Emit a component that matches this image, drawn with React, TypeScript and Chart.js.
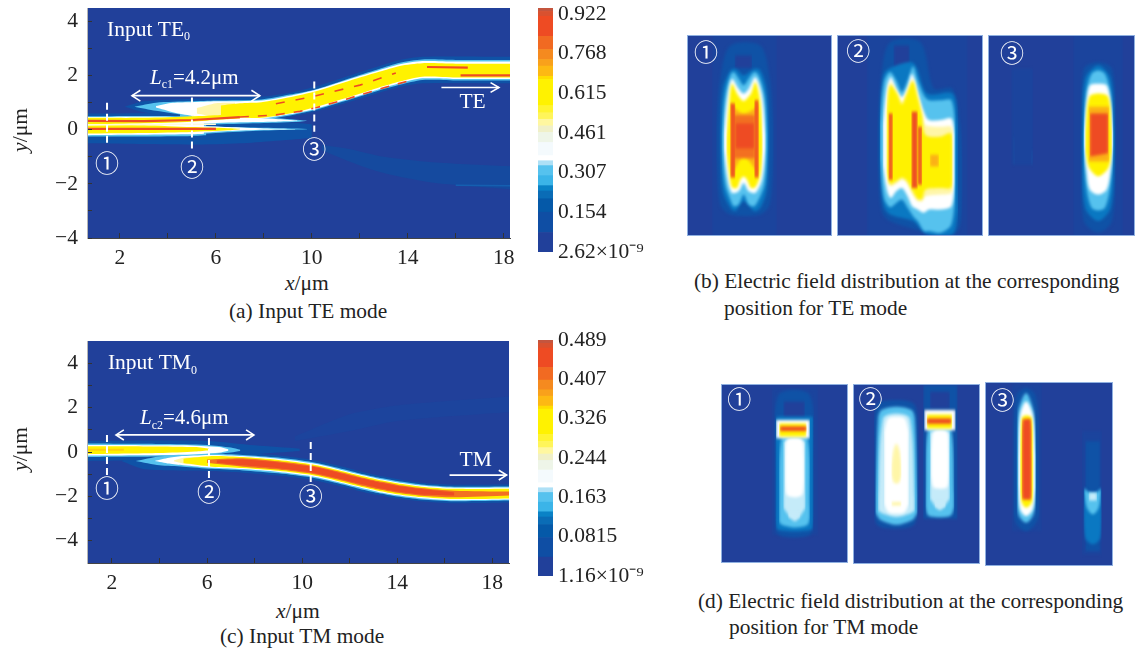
import React, { useEffect, useRef } from "react";
import { Chart, registerables } from "chart.js";
Chart.register(...registerables);

type Row = number[];

// ---------- axis ticks and labels ----------
const xTickValues = [2, 4, 6, 8, 10, 12, 14, 16, 18];
const xLabelled = [2, 6, 10, 14, 18];
const yTickValues = [-4, -3, -2, -1, 0, 1, 2, 3, 4];
const yLabelled = [-4, -2, 0, 2, 4];
const teBarValues = [0, 0.154, 0.307, 0.461, 0.615, 0.768, 0.922];
const teBarLabels = ["2.62×10⁻⁹", "0.154", "0.307", "0.461", "0.615", "0.768", "0.922"];
const tmBarValues = [0, 0.0815, 0.163, 0.244, 0.326, 0.407, 0.489];
const tmBarLabels = ["1.16×10⁻⁹", "0.0815", "0.163", "0.244", "0.326", "0.407", "0.489"];

// ---------- colour bar (fraction of full scale, bottom to top) ----------
const barEdges = [0, 0.08, 0.163, 0.218, 0.25, 0.272, 0.313, 0.354, 0.374, 0.395, 0.449, 0.49, 0.517, 0.544, 0.571, 0.6, 0.707, 0.72, 0.762, 0.789, 0.83, 0.884, 0.966, 0.986, 1];
const barColors = ["#21409a", "#0f4ea4", "#0559a8", "#0a6cb6", "#0a82c6", "#3bb4e8", "#56c2ee", "#aee0f6", "#ffffff", "#f4fafd", "#eef5e8", "#f0f0c8", "#fff7a0", "#fff55a", "#fff430", "#fff200", "#ffdd00", "#fdb913", "#f9a11b", "#f58a1f", "#f16a22", "#ee4b23", "#d9512f", "#c4553e"];

const BG = "#21409a", FAINT = "#1b449d", DEEP = "#0f52a6", MID = "#0a78c2", SKY = "#56c2ee", PALE = "#c5ebf9", WHITE = "#ffffff", CREAM = "#fff6a8", YELLOW = "#fff200", AMBER = "#fbb116", ORANGE = "#f37021", RED = "#ee4b23";

// ---------- panel (a): contours [x, upper y, lower y] in µm ----------
const aLowerFaint: Row[] = [[10.4, -0.55, -0.75], [11.5, -0.7, -1.15], [13, -1, -1.6], [15, -1.2, -1.95], [18.26, -1.35, -2.2]];
const aInputHalo: Row[] = [[0.625, 0.6, -0.5], [5, 0.6, -0.55], [7, 0.45, -0.5], [10, 0.2, -0.3]];
const aUpperHalo: Row[] = [[2.2, 0.85, 0.85], [3, 1.05, 0.65], [5, 1.15, 0.42], [7.9, 1.22, 0.3], [9.08, 1.37, 0.47], [10.17, 1.6, 0.68], [11.9, 2.1, 1.12], [12.8, 2.35, 1.37], [13.67, 2.58, 1.58], [14.6, 2.7, 1.72], [18.26, 2.7, 1.72]];
const aUpperSky: Row[] = [[2.6, 0.85, 0.85], [3.5, 1, 0.7], [5, 1.05, 0.5], [6, 1.08, 0.42], [7.9, 1.12, 0.38], [9.08, 1.3, 0.53], [10.17, 1.5, 0.74], [11.9, 2, 1.2], [12.8, 2.25, 1.45], [13.67, 2.48, 1.66], [14.6, 2.6, 1.84], [16, 2.58, 1.82], [18.26, 2.58, 1.82]];
const aUpperWhite: Row[] = [[3.5, 0.88, 0.82], [4.2, 1, 0.65], [5, 1.02, 0.52], [6, 1.05, 0.44], [7.9, 1.08, 0.42], [9.08, 1.26, 0.57], [10.17, 1.48, 0.78], [11.9, 1.96, 1.24], [12.8, 2.2, 1.5], [13.67, 2.42, 1.72], [14.6, 2.54, 1.9], [16, 2.52, 1.88], [18.26, 2.52, 1.88]];
const aUpperCream: Row[] = [[5.2, 0.8, 0.6], [6, 0.98, 0.47], [6.8, 1, 0.44]];
const aUpperYellow: Row[] = [[6.2, 0.9, 0.5], [7, 0.98, 0.45], [7.9, 1.02, 0.44], [9.08, 1.2, 0.6], [10.17, 1.42, 0.84], [11.9, 1.9, 1.3], [12.8, 2.14, 1.56], [13.67, 2.36, 1.78], [14.6, 2.46, 1.96], [16, 2.44, 1.93], [18.26, 2.44, 1.93]];
const aInputSky: Row[] = [[0.625, 0.5, -0.25], [4.6, 0.5, -0.24], [5.6, 0.4, -0.2]];
const aInputWhite: Row[] = [[0.625, 0.47, -0.2], [5, 0.45, -0.17], [5.5, 0.25, -0.15]];
const aSpikeUpSky: Row[] = [[4.5, 0.6, 0.2], [6, 0.5, 0.2], [8, 0.45, 0.25], [9.5, 0.36, 0.3], [9.8, 0.33, 0.33]];
const aSpikeLowSky: Row[] = [[4.5, 0.2, -0.2], [6, 0.12, -0.12], [8, 0.07, -0.03], [9.8, 0.03, 0.02]];
const aSpikeUpWhite: Row[] = [[5, 0.5, 0.22], [7, 0.46, 0.28], [8.5, 0.4, 0.3], [9.4, 0.34, 0.32]];
const aSpikeLowWhite: Row[] = [[5, 0.15, -0.14], [6.5, 0.1, -0.05], [8, 0.05, 0], [9.3, 0.03, 0.02]];
const aLineUpperYellow: Row[] = [[0.625, 0.44, 0.2], [3, 0.44, 0.24], [5, 0.5, 0.3], [6.2, 0.55, 0.38], [7, 0.6, 0.42]];
const aLineLowerYellow: Row[] = [[0.625, 0.18, -0.14], [3, 0.17, -0.12], [5, 0.1, -0.08], [6.5, 0.06, -0.02], [7, 0.04, 0.02]];
const aGapLine = [[0.625, 0.18], [3, 0.19], [6, 0.2]];
const aRedInUpper = [[0.625, 0.33], [3, 0.32], [5, 0.36], [7, 0.47]];
const aRedInLower = [[0.625, 0.03], [3, 0.03], [5, 0.03], [6, 0.03]];
const aRedLowerDash = [[7, 0.47], [8.5, 0.55], [9.5, 0.68], [10.2, 0.82], [11.5, 1.15], [13, 1.55], [14.2, 1.85]];
const aRedUpperDash = [[8.5, 0.96], [10, 1.22], [12, 1.65], [13.5, 2.1]];
const aRedTop = [[14.8, 2.32], [16.5, 2.3]];
const aRedBottom = [[16.2, 2.01], [18.26, 2.01]];
const aStreak = [[16, -2.05], [18.26, -2.07]];
const aDash1 = [[1.46, 1], [1.46, -0.56]];
const aDash2 = [[5, 1.19], [5, -0.7]];
const aDash3 = [[10.1, 1.78], [10.1, -0.07]];
const aSpanArrow = [[2.5, 1.26], [7.83, 1.26]];
const aSpanHeadL = [[2.85, 1.46], [2.5, 1.26], [2.85, 1.06]];
const aSpanHeadR = [[7.48, 1.46], [7.83, 1.26], [7.48, 1.06]];
const aOutArrow = [[15.4, 1.56], [17.8, 1.56]];
const aOutHead = [[17.45, 1.74], [17.8, 1.56], [17.45, 1.38]];

// ---------- panel (c) ----------
const cUpperFaint: Row[] = [[9.7, 0.7, 0.5], [12, 1.7, 0.95], [14, 2.1, 1.4], [18.7, 2.5, 1.8]];
const cInputHalo: Row[] = [[0.95, 0.5, -0.4], [6, 0.5, -0.3], [8, 0.3, -0.1], [9.9, 0.15, 0.05]];
const cInputSky: Row[] = [[0.95, 0.38, -0.22], [4, 0.36, -0.2], [6, 0.32, -0.12], [7, 0.2, -0.02], [7.4, 0.1, 0.05]];
const cInputWhite: Row[] = [[0.95, 0.32, -0.16], [5, 0.3, -0.12], [6.5, 0.22, -0.03], [6.9, 0.12, 0.06]];
const cInputYellow: Row[] = [[0.95, 0.26, -0.1], [4, 0.25, -0.05], [5.5, 0.22, 0.02], [6.1, 0.14, 0.08]];
const cInputCore = [[0.95, 0.1], [2.5, 0.1]];
const cOutHalo: Row[] = [[2.4, -0.4, -0.4], [3.4, -0.02, -0.78], [6.2, 0.02, -0.86], [7.5, -0.05, -0.93], [9, -0.16, -1.06], [10.45, -0.36, -1.26], [11.45, -0.6, -1.5], [12.3, -0.83, -1.73], [13.2, -1.06, -1.94], [14, -1.22, -2.1], [15, -1.38, -2.22], [16.4, -1.47, -2.31], [18.7, -1.46, -2.28]];
const cOutSky: Row[] = [[3, -0.4, -0.4], [4, -0.2, -0.6], [5, -0.12, -0.66], [6.2, -0.08, -0.76], [7.5, -0.13, -0.83], [9, -0.25, -0.96], [10.45, -0.46, -1.16], [11.45, -0.7, -1.4], [12.3, -0.93, -1.63], [13.2, -1.15, -1.85], [14, -1.31, -2.01], [15, -1.46, -2.14], [16.4, -1.56, -2.22], [18.7, -1.55, -2.19]];
const cOutWhite: Row[] = [[3.8, -0.4, -0.4], [4.4, -0.26, -0.52], [5, -0.18, -0.6], [6.2, -0.13, -0.71], [7.5, -0.18, -0.77], [9, -0.3, -0.9], [10.45, -0.51, -1.1], [11.45, -0.75, -1.34], [12.3, -0.98, -1.57], [13.2, -1.2, -1.8], [14, -1.36, -1.95], [15, -1.51, -2.08], [16.4, -1.61, -2.17], [18.7, -1.6, -2.14]];
const cOutCream: Row[] = [[4.6, -0.38, -0.42], [5, -0.26, -0.52], [6, -0.2, -0.62]];
const cOutYellow: Row[] = [[5, -0.3, -0.5], [6.2, -0.18, -0.66], [7.5, -0.23, -0.72], [9, -0.36, -0.85], [10.45, -0.56, -1.05], [11.45, -0.8, -1.29], [12.3, -1.03, -1.52], [13.2, -1.25, -1.74], [14, -1.41, -1.9], [15, -1.56, -2.03], [16.4, -1.66, -2.12], [18.7, -1.65, -2.09]];
const cOutOrange: Row[] = [[6, -0.34, -0.5], [7.5, -0.28, -0.66], [9, -0.42, -0.79], [10.45, -0.62, -0.99], [11.45, -0.86, -1.23], [12.3, -1.09, -1.46], [13.2, -1.31, -1.68], [14, -1.47, -1.84], [15, -1.62, -1.97], [16.4, -1.74, -2.04], [18.7, -1.78, -1.96]];
const cOutRed: Row[] = [[6.4, -0.37, -0.48], [7.5, -0.34, -0.6], [9, -0.47, -0.73], [10.45, -0.67, -0.93], [11.45, -0.91, -1.17], [12.3, -1.14, -1.4], [13.2, -1.36, -1.62], [14, -1.52, -1.78], [15, -1.67, -1.91], [16.4, -1.82, -1.96]];
const cDash1 = [[1.79, 0.77], [1.79, -1.04]];
const cDash2 = [[6.08, 0.63], [6.08, -1.26]];
const cDash3 = [[10.36, 0.45], [10.36, -1.35]];
const cSpanArrow = [[2.17, 0.77], [7.97, 0.77]];
const cSpanHeadL = [[2.5, 1], [2.17, 0.77], [2.5, 0.54]];
const cSpanHeadR = [[7.64, 1], [7.97, 0.77], [7.64, 0.54]];
const cOutArrow = [[16.2, -1.04], [18.6, -1.04]];
const cOutHead = [[18.27, -0.82], [18.6, -1.04], [18.27, -1.26]];

// ---------- panel (b) maps: [column, upper row, lower row] on each map's own grid ----------
const b1Faint: Row[] = [[95, 28, 635], [290, 28, 635]];
const b1Deep: Row[] = [[108, 300, 400], [120, 160, 540], [150, 60, 570], [240, 60, 570], [268, 160, 540], [280, 300, 400]];
const b1Notch: Row[] = [[163, 90, 128], [215, 90, 128]];
const b1Mid: Row[] = [[118, 320, 370], [128, 190, 500], [150, 135, 550], [165, 130, 560], [190, 150, 530], [222, 130, 560], [240, 135, 550], [258, 190, 500], [268, 320, 370]];
const b1Sky: Row[] = [[124, 330, 370], [135, 210, 480], [150, 150, 525], [160, 140, 545], [175, 160, 540], [190, 180, 510], [205, 160, 540], [222, 140, 545], [235, 150, 525], [252, 210, 480], [262, 330, 370]];
const b1White: Row[] = [[130, 330, 370], [142, 210, 465], [155, 160, 505], [175, 190, 500], [190, 205, 475], [205, 190, 500], [225, 155, 505], [245, 210, 465], [256, 330, 370]];
const b1Yellow: Row[] = [[138, 340, 380], [147, 230, 450], [155, 175, 488], [170, 205, 490], [180, 220, 465], [190, 228, 455], [200, 220, 465], [212, 205, 490], [225, 170, 488], [240, 230, 450], [247, 340, 380]];
const b1Amber: Row[] = [[150, 230, 460], [165, 250, 430], [190, 265, 395], [222, 250, 430], [236, 230, 460]];
const b1Orange: Row[] = [[160, 270, 400], [225, 270, 400]];
const b1RedLeft: Row[] = [[150, 235, 458], [165, 235, 458]];
const b1RedRight: Row[] = [[222, 225, 458], [235, 225, 458]];
const b1RedCore: Row[] = [[165, 295, 370], [222, 295, 370]];

const b2Faint: Row[] = [[560, 28, 635], [860, 28, 635]];
const b2Deep: Row[] = [[592, 300, 420], [605, 140, 560], [630, 50, 590], [720, 50, 620], [760, 190, 635], [815, 190, 635], [838, 300, 600], [845, 400, 500]];
const b2Notch: Row[] = [[640, 60, 125], [688, 60, 125]];
const b2Mid: Row[] = [[598, 300, 400], [610, 150, 540], [630, 128, 570], [698, 112, 590], [740, 205, 630], [815, 205, 630], [832, 300, 560]];
const b2Sky: Row[] = [[600, 300, 400], [612, 170, 520], [630, 140, 548], [648, 165, 535], [665, 200, 525], [682, 165, 550], [698, 122, 575], [712, 165, 590], [730, 210, 620], [745, 225, 620], [780, 225, 625], [812, 225, 600], [825, 320, 480]];
const b2White: Row[] = [[608, 300, 420], [620, 190, 495], [632, 155, 520], [648, 190, 500], [665, 215, 490], [682, 185, 515], [695, 145, 545], [712, 200, 555], [730, 260, 565], [745, 285, 555], [780, 285, 555], [812, 280, 545], [822, 330, 470]];
const b2Cream: Row[] = [[616, 260, 440], [630, 170, 485], [650, 200, 475], [665, 230, 465], [680, 200, 475], [697, 160, 510], [712, 215, 530], [725, 265, 530], [735, 300, 515], [780, 305, 510], [812, 305, 505], [818, 350, 475]];
const b2Yellow: Row[] = [[620, 260, 440], [630, 180, 478], [650, 205, 468], [665, 238, 458], [680, 205, 468], [697, 168, 500], [712, 218, 523], [725, 272, 523], [735, 330, 495], [780, 335, 490], [810, 325, 490], [815, 365, 470]];
const b2Square: Row[] = [[748, 390, 425], [775, 390, 425]];
const b2RedLeft: Row[] = [[625, 265, 465], [638, 265, 465]];
const b2RedMidA: Row[] = [[693, 260, 490], [712, 260, 490]];
const b2RedMidB: Row[] = [[712, 305, 480], [725, 305, 480]];

const b3Faint: Row[] = [[520, 28, 635], [670, 28, 635]];
const b3Ghost: Row[] = [[335, 130, 420], [400, 130, 420]];
const b3TraceL: Row[] = [[339, 330, 340], [346, 415, 425]];
const b3TraceR: Row[] = [[394, 415, 425], [400, 372, 380]];
const b3Deep: Row[] = [[540, 320, 380], [552, 130, 590], [595, 110, 625], [636, 130, 590], [650, 320, 380]];
const b3Mid: Row[] = [[545, 330, 370], [556, 160, 550], [595, 120, 590], [632, 160, 550], [645, 330, 370]];
const b3Sky: Row[] = [[550, 330, 360], [560, 200, 490], [575, 145, 550], [595, 135, 558], [615, 145, 550], [630, 200, 490], [640, 330, 360]];
const b3White: Row[] = [[552, 320, 360], [560, 230, 440], [570, 180, 495], [595, 175, 510], [620, 180, 495], [632, 230, 440], [640, 320, 360]];
const b3Yellow: Row[] = [[556, 320, 380], [568, 215, 430], [595, 205, 455], [625, 215, 430], [636, 320, 380]];
const b3Amber: Row[] = [[566, 245, 410], [628, 245, 410]];
const b3Red: Row[] = [[570, 265, 395], [625, 265, 385]];

// ---------- panel (d) maps ----------
const d1Faint: Row[] = [[170, 40, 480], [310, 40, 480]];
const d1Deep: Row[] = [[178, 300, 420], [190, 60, 480], [285, 60, 480], [298, 300, 420]];
const d1Notch: Row[] = [[205, 80, 130], [270, 80, 130]];
const d1Mid: Row[] = [[182, 128, 440], [190, 125, 465], [288, 125, 465], [295, 128, 440]];
const d1Sky: Row[] = [[192, 400, 440], [200, 190, 450], [240, 190, 458], [278, 190, 450], [285, 400, 430]];
const d1Pale: Row[] = [[205, 200, 400], [240, 190, 440], [272, 200, 400]];
const d1White: Row[] = [[210, 250, 320], [215, 195, 360], [240, 190, 368], [262, 195, 360], [268, 250, 320]];
const d1Bulb: Row[] = [[220, 412, 428], [255, 412, 428]];
const d1Cap: Row[] = [[183, 135, 190], [285, 135, 190]];
const d1CapYellow: Row[] = [[192, 146, 185], [275, 146, 185]];
const d1CapRed: Row[] = [[195, 155, 168], [275, 155, 168]];

const d2LeftDeep: Row[] = [[478, 230, 330], [485, 90, 445], [540, 75, 460], [600, 90, 445], [612, 230, 330]];
const d2LeftSky: Row[] = [[482, 360, 410], [490, 130, 425], [500, 105, 435], [545, 95, 448], [590, 105, 435], [600, 130, 425], [608, 360, 410]];
const d2LeftPale: Row[] = [[490, 370, 405], [505, 130, 415], [545, 115, 425], [585, 130, 415], [600, 370, 405]];
const d2LeftWhite: Row[] = [[508, 170, 385], [520, 130, 410], [545, 125, 415], [570, 130, 410], [582, 170, 385]];
const d2LeftCream: Row[] = [[530, 270, 300], [536, 225, 320], [545, 205, 325], [554, 225, 320], [560, 270, 300]];
const d2LeftBulb: Row[] = [[530, 380, 390], [560, 380, 390]];
const d2RightDeep: Row[] = [[625, 30, 430], [728, 30, 430]];
const d2RightNotch: Row[] = [[645, 50, 100], [705, 50, 100]];
const d2RightSky: Row[] = [[632, 360, 395], [640, 160, 420], [675, 160, 425], [708, 160, 420], [718, 360, 395]];
const d2RightPale: Row[] = [[645, 170, 370], [675, 165, 405], [705, 170, 370]];
const d2RightWhite: Row[] = [[648, 230, 300], [655, 170, 335], [675, 165, 340], [697, 170, 335], [702, 230, 300]];
const d2RightBulb: Row[] = [[660, 378, 395], [692, 378, 395]];
const d2Cap: Row[] = [[628, 105, 165], [722, 105, 165]];
const d2CapYellow: Row[] = [[636, 118, 160], [712, 118, 160]];
const d2CapRed: Row[] = [[636, 130, 146], [710, 130, 146]];

const d3Faint: Row[] = [[125, 30, 470], [215, 30, 470]];
const d3Deep: Row[] = [[130, 150, 420], [140, 60, 450], [168, 40, 470], [195, 60, 450], [208, 150, 420]];
const d3Sky: Row[] = [[140, 250, 330], [145, 110, 420], [168, 55, 445], [190, 110, 420], [198, 250, 340]];
const d3White: Row[] = [[144, 250, 330], [150, 120, 405], [168, 80, 425], [188, 120, 405], [196, 240, 340]];
const d3Yellow: Row[] = [[150, 250, 350], [155, 130, 385], [168, 122, 400], [185, 130, 385], [190, 250, 350]];
const d3Red: Row[] = [[155, 220, 350], [158, 135, 375], [168, 133, 375], [182, 135, 375], [185, 250, 350]];
const d3Trail: Row[] = [[335, 170, 540], [395, 170, 540]];
const d3TrailDeep: Row[] = [[345, 200, 530], [390, 200, 530]];
const d3TrailMid: Row[] = [[340, 335, 350], [345, 345, 490], [368, 360, 510], [390, 345, 490], [394, 335, 350]];
const d3TrailSky: Row[] = [[342, 340, 350], [350, 350, 400], [368, 355, 420], [385, 350, 400], [392, 340, 350]];
const d3TrailPale: Row[] = [[355, 355, 378], [380, 355, 378]];

// ---------- texts ----------
const teInput = [["Input TE", "r"], ["0", "s"]];
const tmInput = [["Input TM", "r"], ["0", "s"]];
const teLength = [["L", "i"], ["c1", "s"], ["=4.2μm", "r"]];
const tmLength = [["L", "i"], ["c2", "s"], ["=4.6μm", "r"]];
const circled = ["①", "②", "③"];

// ---------- builders ----------
const pts = (a: number[][]) => a.map(([x, y]) => ({ x, y }));

function bands(layers: any[][], tension: number) {
  const out: any[] = [];
  const base = { pointRadius: 0, borderWidth: 0, borderColor: "transparent", tension };
  layers.forEach((l) => {
    const [rows, color, width, dash] = l;
    if (rows[0].length === 3) {
      out.push({ ...base, data: rows.map((r: Row) => ({ x: r[0], y: r[1] })), backgroundColor: color, fill: "+1" });
      out.push({ ...base, data: rows.map((r: Row) => ({ x: r[0], y: r[2] })), fill: false });
    } else {
      out.push({ ...base, tension: 0, data: pts(rows), borderColor: color, borderWidth: width, borderDash: dash || [], fill: false });
    }
  });
  out.forEach((d, i) => (d.order = out.length - i));
  return out;
}

type Label = { x: number; y: number; segs: string[][]; size: number; center?: boolean; family?: string };

function drawLabel(ctx: CanvasRenderingContext2D, px: number, py: number, l: Label) {
  const fam = l.family || '"Liberation Serif"';
  const font = (k: string) => (k === "i" ? `italic ${l.size}px ${fam}` : k === "s" ? `${Math.round(l.size * 0.58)}px ${fam}` : `${l.size}px ${fam}`);
  let w = 0;
  l.segs.forEach(([t, k]) => { ctx.font = font(k); w += ctx.measureText(t).width; });
  let x = l.center ? px - w / 2 : px;
  ctx.textBaseline = "alphabetic";
  ctx.textAlign = "left";
  ctx.fillStyle = "#fff";
  l.segs.forEach(([t, k]) => {
    ctx.font = font(k);
    ctx.fillText(t, x, k === "s" ? py + l.size * 0.22 : py);
    x += ctx.measureText(t).width;
  });
}

function fieldPlugin(bg: string, blur: number, labels: Label[]) {
  return {
    id: "field",
    beforeDatasetsDraw(c: any) {
      const { ctx, chartArea: a } = c;
      ctx.save();
      ctx.fillStyle = bg;
      ctx.fillRect(a.left, a.top, a.right - a.left, a.bottom - a.top);
      ctx.restore();
      (ctx as any).filter = `blur(${blur}px)`;
    },
    afterDatasetsDraw(c: any) {
      const { ctx, scales } = c;
      (ctx as any).filter = "none";
      ctx.save();
      labels.forEach((l) => drawLabel(ctx, scales.x.getPixelForValue(l.x), scales.y.getPixelForValue(l.y), l));
      ctx.restore();
    },
  };
}

const tickFont = { family: '"Liberation Serif"', size: 21.5 };

function heatConfig(o: any) {
  return {
    type: "line",
    data: { datasets: bands(o.layers, 0.25) },
    plugins: [fieldPlugin(BG, 0.6, o.labels)],
    options: {
      responsive: false, animation: false, devicePixelRatio: 1,
      layout: { padding: { top: o.top, right: o.right, left: 0, bottom: 0 } },
      plugins: { legend: { display: false }, tooltip: { enabled: false } },
      scales: {
        x: {
          type: "linear", min: o.xMin, max: o.xMax,
          afterFit: (s: any) => { s.height = o.axisH; s.paddingLeft = 0; s.paddingRight = 0; },
          afterBuildTicks: (s: any) => { s.ticks = xTickValues.map((value) => ({ value })); },
          grid: { drawOnChartArea: false, tickLength: -5, color: "#333", z: 1 },
          border: { color: "#444", z: 1 },
          ticks: { font: tickFont, color: "#222", padding: 12, autoSkip: false, maxRotation: 0, callback: (v: number) => (xLabelled.includes(v) ? String(v) : "") },
        },
        y: {
          type: "linear", min: o.yMin, max: o.yMax,
          afterFit: (s: any) => { s.width = 87; s.paddingTop = 0; s.paddingBottom = 0; },
          afterBuildTicks: (s: any) => { s.ticks = yTickValues.map((value) => ({ value })); },
          grid: { drawOnChartArea: false, tickLength: -5, color: "#333", z: 1 },
          border: { color: "#b5b5b5", z: 1 },
          ticks: { font: tickFont, color: "#222", padding: 14, autoSkip: false, callback: (v: number) => (yLabelled.includes(v) ? String(v).replace("-", "−") : "") },
        },
      },
    },
  };
}

function barConfig(max: number, values: number[], labels: string[]) {
  return {
    type: "bar",
    data: {
      labels: ["scale"],
      datasets: barColors.map((c, i) => ({ data: [[barEdges[i] * max, barEdges[i + 1] * max]], backgroundColor: c, borderWidth: 0, barPercentage: 1, categoryPercentage: 1, grouped: false })),
    },
    options: {
      responsive: false, animation: false, devicePixelRatio: 1,
      layout: { padding: { left: 8, right: 0, top: 8, bottom: 16 } },
      plugins: { legend: { display: false }, tooltip: { enabled: false } },
      scales: {
        x: { display: false },
        y: {
          position: "right", min: 0, max,
          afterFit: (s: any) => { s.width = 107; s.paddingTop = 0; s.paddingBottom = 0; },
          afterBuildTicks: (s: any) => { s.ticks = values.map((value) => ({ value })); },
          grid: { display: false, drawTicks: false }, border: { display: false },
          ticks: { font: tickFont, color: "#222", padding: 5, autoSkip: false, callback: (v: number) => labels[values.indexOf(v)] ?? "" },
        },
      },
    },
  };
}

function mapConfig(layers: any[][], x: number[], y: number[], num: string, nx: number, ny: number) {
  return {
    type: "line",
    data: { datasets: bands(layers, 0.3) },
    plugins: [fieldPlugin(BG, 1.8, [{ x: nx, y: ny, segs: [[num, "r"]], size: 24, center: true, family: '"Noto Sans CJK JP"' }])],
    options: {
      responsive: false, animation: false, devicePixelRatio: 1,
      layout: { padding: 0 },
      plugins: { legend: { display: false }, tooltip: { enabled: false } },
      scales: {
        x: { type: "linear", min: x[0], max: x[1], display: false },
        y: { type: "linear", min: y[0], max: y[1], reverse: true, display: false },
      },
    },
  };
}

const W = 2.2;
const aLayers = [
  [aLowerFaint, "#154a9f"], [aStreak, "#155fb0", 1.5], [aInputHalo, DEEP], [aUpperHalo, DEEP],
  [aInputSky, SKY], [aSpikeUpSky, SKY], [aSpikeLowSky, SKY], [aUpperSky, SKY],
  [aInputWhite, WHITE], [aSpikeUpWhite, WHITE], [aSpikeLowWhite, WHITE], [aUpperWhite, WHITE],
  [aUpperCream, CREAM], [aUpperYellow, YELLOW], [aLineUpperYellow, YELLOW], [aLineLowerYellow, YELLOW],
  [aGapLine, "#fffbd8", 1.5], [aRedInUpper, RED, W], [aRedInLower, RED, W],
  [aRedLowerDash, RED, 1.6, [9, 9]], [aRedUpperDash, RED, 1.6, [9, 11]], [aRedTop, RED, W], [aRedBottom, RED, W],
  [aDash1, WHITE, 2, [7, 4]], [aDash2, WHITE, 2, [7, 4]], [aDash3, WHITE, 2, [7, 4]],
  [aSpanArrow, WHITE, 1.6], [aSpanHeadL, WHITE, 1.6], [aSpanHeadR, WHITE, 1.6], [aOutArrow, WHITE, 1.6], [aOutHead, WHITE, 1.6],
];
const cLayers = [
  [cUpperFaint, "#1c449d"], [cInputHalo, DEEP], [cOutHalo, DEEP], [cInputSky, SKY], [cOutSky, SKY],
  [cInputWhite, WHITE], [cOutWhite, WHITE], [cInputYellow, YELLOW], [cInputCore, "#ffcf0a", 2], [cOutCream, CREAM], [cOutYellow, YELLOW], [cOutOrange, ORANGE], [cOutRed, RED],
  [cDash1, WHITE, 2, [7, 4]], [cDash2, WHITE, 2, [7, 4]], [cDash3, WHITE, 2, [7, 4]],
  [cSpanArrow, WHITE, 1.6], [cSpanHeadL, WHITE, 1.6], [cSpanHeadR, WHITE, 1.6], [cOutArrow, WHITE, 1.6], [cOutHead, WHITE, 1.6],
];
const b1Layers = [[b1Faint, FAINT], [b1Deep, DEEP], [b1Notch, BG], [b1Mid, MID], [b1Sky, SKY], [b1White, WHITE], [b1Yellow, YELLOW], [b1Amber, AMBER], [b1Orange, ORANGE], [b1RedLeft, RED], [b1RedRight, RED], [b1RedCore, RED]];
const b2Layers = [[b2Faint, FAINT], [b2Deep, DEEP], [b2Notch, BG], [b2Mid, MID], [b2Sky, SKY], [b2White, WHITE], [b2Cream, CREAM], [b2Yellow, YELLOW], [b2Square, AMBER], [b2RedLeft, RED], [b2RedMidA, RED], [b2RedMidB, RED]];
const b3Layers = [[b3Faint, FAINT], [b3Ghost, FAINT], [b3TraceL, "#1976bd"], [b3TraceR, "#1976bd"], [b3Deep, DEEP], [b3Mid, MID], [b3Sky, SKY], [b3White, WHITE], [b3Yellow, YELLOW], [b3Amber, AMBER], [b3Red, RED]];
const d1Layers = [[d1Faint, FAINT], [d1Deep, DEEP], [d1Notch, BG], [d1Mid, MID], [d1Sky, SKY], [d1Pale, PALE], [d1White, WHITE], [d1Bulb, PALE], [d1Cap, WHITE], [d1CapYellow, YELLOW], [d1CapRed, RED]];
const d2Layers = [[d2LeftDeep, DEEP], [d2LeftSky, SKY], [d2LeftPale, PALE], [d2LeftWhite, WHITE], [d2LeftCream, CREAM], [d2LeftBulb, CREAM], [d2RightDeep, DEEP], [d2RightNotch, BG], [d2RightSky, SKY], [d2RightPale, PALE], [d2RightWhite, WHITE], [d2RightBulb, PALE], [d2Cap, WHITE], [d2CapYellow, YELLOW], [d2CapRed, RED]];
const d3Layers = [[d3Faint, FAINT], [d3Deep, DEEP], [d3Sky, SKY], [d3White, WHITE], [d3Yellow, YELLOW], [d3Red, RED], [d3Trail, FAINT], [d3TrailDeep, DEEP], [d3TrailMid, MID], [d3TrailSky, SKY], [d3TrailPale, PALE]];

const charts: { l: number; t: number; w: number; h: number; border?: boolean; cfg: () => any }[] = [
  {
    l: 0, t: 0, w: 530, h: 270,
    cfg: () => heatConfig({
      layers: aLayers, top: 8, right: 20, axisH: 32, xMin: 0.625, xMax: 18.26, yMin: -4, yMax: 4.5,
      labels: [
        { x: 1.46, y: 3.48, segs: teInput, size: 21.5 },
        { x: 3.25, y: 1.7, segs: teLength, size: 21 },
        { x: 16.7, y: 0.81, segs: [["TE", "r"]], size: 21.5, center: true },
        { x: 1.46, y: -1.55, segs: [[circled[0], "r"]], size: 24, center: true, family: '"Noto Sans CJK JP"' },
        { x: 5, y: -1.7, segs: [[circled[1], "r"]], size: 24, center: true, family: '"Noto Sans CJK JP"' },
        { x: 10.1, y: -1.03, segs: [[circled[2], "r"]], size: 24, center: true, family: '"Noto Sans CJK JP"' },
      ],
    }),
  },
  {
    l: 0, t: 333, w: 530, h: 262,
    cfg: () => heatConfig({
      layers: cLayers, top: 8, right: 21, axisH: 32, xMin: 0.95, xMax: 18.7, yMin: -5, yMax: 5,
      labels: [
        { x: 1.83, y: 3.74, segs: tmInput, size: 21.5 },
        { x: 3.18, y: 1.26, segs: tmLength, size: 21 },
        { x: 17.3, y: -0.63, segs: [["TM", "r"]], size: 21.5, center: true },
        { x: 1.79, y: -2.02, segs: [[circled[0], "r"]], size: 24, center: true, family: '"Noto Sans CJK JP"' },
        { x: 6.08, y: -2.2, segs: [[circled[1], "r"]], size: 24, center: true, family: '"Noto Sans CJK JP"' },
        { x: 10.36, y: -2.38, segs: [[circled[2], "r"]], size: 24, center: true, family: '"Noto Sans CJK JP"' },
      ],
    }),
  },
  { l: 530, t: 0, w: 130, h: 268, cfg: () => barConfig(0.945, teBarValues, teBarLabels) },
  { l: 530, t: 332, w: 130, h: 260, cfg: () => barConfig(0.489, tmBarValues, tmBarLabels) },
  { l: 687, t: 35, w: 145, h: 201, border: true, cfg: () => mapConfig(b1Layers, [20, 455], [28, 635], circled[0], 77, 108) },
  { l: 837, t: 35, w: 146, h: 201, border: true, cfg: () => mapConfig(b2Layers, [472, 906], [28, 635], circled[1], 535, 103) },
  { l: 988, t: 35, w: 147, h: 201, border: true, cfg: () => mapConfig(b3Layers, [265, 705], [28, 635], circled[2], 337, 111) },
  { l: 721, t: 384, w: 127, h: 179, border: true, cfg: () => mapConfig(d1Layers, [17, 400], [27, 565], circled[0], 72, 100) },
  { l: 853, t: 384, w: 127, h: 180, border: true, cfg: () => mapConfig(d2Layers, [415, 795], [27, 565], circled[1], 467, 100) },
  { l: 985, t: 382, w: 128, h: 184, border: true, cfg: () => mapConfig(d3Layers, [45, 428], [22, 575], circled[2], 97, 104) },
];

const serif: React.CSSProperties = { position: "absolute", fontFamily: '"Liberation Serif", serif', fontSize: 21.5, color: "#222", whiteSpace: "nowrap", lineHeight: "22px" };
const caption: React.CSSProperties = { ...serif, fontSize: 21.4 };

export default function App() {
  const refs = useRef<(HTMLCanvasElement | null)[]>([]);
  useEffect(() => {
    const made = charts.map((c, i) => new Chart(refs.current[i] as HTMLCanvasElement, c.cfg()));
    return () => made.forEach((m) => m.destroy());
  }, []);
  return (
    <div style={{ position: "absolute", left: 0, top: 0, width: 1135, height: 649, overflow: "hidden", background: "#fff" }}>
      {charts.map((c, i) => (
        <canvas
          key={i}
          ref={(el) => { refs.current[i] = el; }}
          width={c.w}
          height={c.h}
          style={{ position: "absolute", left: c.l, top: c.t, width: c.w, height: c.h, display: "block", outline: c.border ? "1px solid #8fb0e0" : "none", outlineOffset: -1 }}
        />
      ))}
      <div style={{ ...serif, left: 285, top: 272 }}><i>x</i>/μm</div>
      <div style={{ ...serif, left: 276, top: 600 }}><i>x</i>/μm</div>
      <div style={{ ...serif, left: -2, top: 119, transform: "rotate(-90deg)", width: 44, textAlign: "center" }}><i>y</i>/μm</div>
      <div style={{ ...serif, left: -2, top: 438, transform: "rotate(-90deg)", width: 44, textAlign: "center" }}><i>y</i>/μm</div>
      <div style={{ ...caption, left: 229, top: 300 }}>(a) Input TE mode</div>
      <div style={{ ...caption, left: 220, top: 625 }}>(c) Input TM mode</div>
      <div style={{ ...caption, left: 694, top: 270 }}>(b) Electric field distribution at the corresponding</div>
      <div style={{ ...caption, left: 724, top: 297 }}>position for TE mode</div>
      <div style={{ ...caption, left: 698, top: 590 }}>(d) Electric field distribution at the corresponding</div>
      <div style={{ ...caption, left: 729, top: 616 }}>position for TM mode</div>
    </div>
  );
}
